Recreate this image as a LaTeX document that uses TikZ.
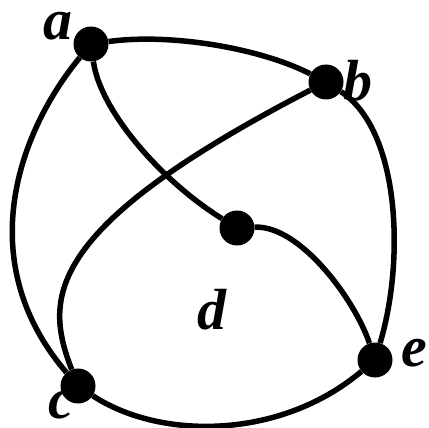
\documentclass[tikz,border=0pt]{standalone}
\usepackage{fontspec}
\setmainfont{Liberation Serif}
\usetikzlibrary{positioning}

\begin{document}
\begin{tikzpicture}[
    x=1pt, y=-1pt,
    vertex/.style={circle, fill=black, inner sep=0pt, minimum size=35pt},
    vlabel/.style={font=\fontsize{58}{64}\selectfont\bfseries\itshape, inner sep=0pt},
    edge/.style={line width=5.5pt}
]
    \useasboundingbox (0,0) rectangle (429,428);
    % vertices
    \node[vertex] (a) at (91,44) {};
    \node[vertex] (b) at (326,82) {};
    \node[vertex] (d) at (237,228) {};
    \node[vertex] (e) at (375,360) {};
    \node[vertex] (c) at (78,386) {};
    % labels
    \node[vlabel] (la) at (58,26) {a};
    \node[vlabel] (lb) at (358,81) {b};
    \node[vlabel] (ld) at (212,310) {d};
    \node[vlabel] (le) at (414,353) {e};
    \node[vlabel] (lc) at (61,405) {c};
    % edges
    \draw[edge] (a) .. controls (170,33) and (260,48) .. (b);
    \draw[edge] (a) .. controls (20,130) and (-30,260) .. (c);
    \draw[edge] (a) .. controls (100,110) and (160,180) .. (d);
    \draw[edge] (b) .. controls (40,230) and (45,300) .. (c);
    \draw[edge] (b) .. controls (400,130) and (405,260) .. (e);
    \draw[edge] (d) .. controls (300,225) and (355,300) .. (e);
    \draw[edge] (c) .. controls (160,440) and (280,440) .. (e);
\end{tikzpicture}
\end{document}
